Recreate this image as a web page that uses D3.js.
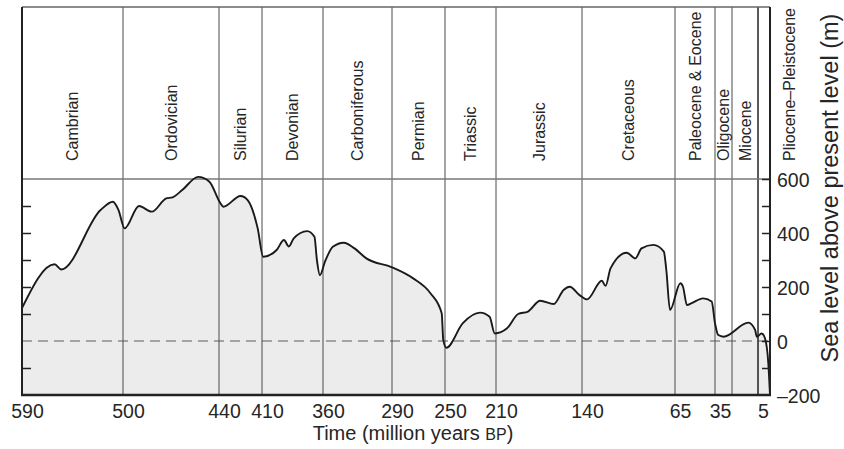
<!DOCTYPE html>
<html><head><meta charset="utf-8">
<script src="https://cdn.jsdelivr.net/npm/d3@7"></script>
<style>
html,body{margin:0;padding:0;background:#fff;}
svg{display:block;font-family:"Liberation Sans",Arial,Helvetica,sans-serif;}
svg text{font-family:"Liberation Sans",Arial,Helvetica,sans-serif;font-weight:normal;}
</style></head><body>
<svg id="chart" width="844" height="449"></svg>
<script>
// Geological periods and their boundaries (million years BP)
const periodNames = ["Cambrian","Ordovician","Silurian","Devonian","Carboniferous","Permian",
  "Triassic","Jurassic","Cretaceous","Paleocene & Eocene","Oligocene","Miocene","Pliocene\u2013Pleistocene"];
const periodBounds = [590,500,440,410,360,290,250,210,140,65,35,23,5,0];
const timeTicks = [590,500,440,410,360,290,250,210,140,65,35,5];
const levelTicks = [-200,0,200,400,600];
const levelTickLabels = ["\u2013200","0","200","400","600"];
const levelMinorTicks = [-100,0,100,200,300,400,500,600];

// Sea level curve: age (Ma) and level above present (m)
const ageMa = [590,561,555,520,509,504,499,490,482,473,469,463,453,446,439,437,425,420,413,
  409,398,392,388,384,373,367,365,362.5,358,350,339,328,316,290,274,261,252.5,251.3,249,
  236,222.5,215,211,201,192,184,174,163,155,150,142,136,124,121,117,104,97,92,82.5,74,72,69,
  61,59,56,52.5,44,37.5,35,32.7,29,11.7,7,5.9,3.5,2.1,0.7,0];
const seaLevel = [122,284,265,485,516,485,417,500,479,528,532,559,608,590,510,497,537,522,417,
  312,337,374,350,380,407,386,300,244,294,349,364,343,306,273,232,177,103,4,-25,
  66,105,90,28,47,100,109,149,137,189,201,170,154,223,204,269,327,306,343,356,331,263,115,
  214,201,133,140,158,146,66,22,16,68,41,16,28,10,-83,-200];

const svg = d3.select("#chart");
const plotLeft = 22, plotRight = 770, plotTop = 7, bandBottom = 179, plotBottom = 395;
const ink = "#262626";

// Piecewise-linear time axis: every period gets its own width
const boundaryPx = [22,123,219,262,323,392,445,496,582,675,715,732,758,770];
const x = d3.scaleLinear().domain(periodBounds).range(boundaryPx);
const y = d3.scaleLinear().domain([-200,600]).range([plotBottom, bandBottom]);

const pts = ageMa.map((a,i)=>({a, v: seaLevel[i]}));

// shaded area under the curve
svg.append("path")
  .datum(pts)
  .attr("fill","#ececec")
  .attr("d", d3.area().curve(d3.curveMonotoneX)
    .x(d=>x(d.a)).y0(y(-200)).y1(d=>y(d.v)));

// present-day sea level
svg.append("line")
  .attr("x1", plotLeft).attr("x2", plotRight).attr("y1", y(0)).attr("y2", y(0))
  .attr("stroke","#8a8a8a").attr("stroke-width",1.5).attr("stroke-dasharray","10,6");

// period boundaries
svg.append("g").selectAll("line")
  .data(periodBounds.slice(1, -1))
  .join("line")
  .attr("x1", d=>x(d)).attr("x2", d=>x(d))
  .attr("y1", plotTop).attr("y2", plotBottom)
  .attr("stroke", d => d===5 ? "#222" : "#4a4a4a")
  .attr("stroke-width", d => d===5 ? 1.5 : 1);

// separator between period band and plot
svg.append("line")
  .attr("x1", plotLeft).attr("x2", plotRight).attr("y1", y(600)).attr("y2", y(600))
  .attr("stroke","#777").attr("stroke-width",1.5);

// sea level curve
svg.append("path")
  .datum(pts)
  .attr("fill","none").attr("stroke","#1a1a1a").attr("stroke-width",1.9)
  .attr("stroke-linejoin","round")
  .attr("d", d3.line().curve(d3.curveMonotoneX).x(d=>x(d.a)).y(d=>y(d.v)));

// frame
svg.append("line").attr("x1",plotLeft).attr("x2",plotRight).attr("y1",plotTop).attr("y2",plotTop)
  .attr("stroke","#666").attr("stroke-width",1.5);
svg.append("line").attr("x1",plotLeft).attr("x2",plotLeft).attr("y1",plotTop).attr("y2",plotBottom)
  .attr("stroke","#222").attr("stroke-width",2);
svg.append("line").attr("x1",plotRight).attr("x2",plotRight).attr("y1",plotTop).attr("y2",plotBottom)
  .attr("stroke","#222").attr("stroke-width",2);
svg.append("line").attr("x1",plotLeft-1).attr("x2",plotRight+1).attr("y1",plotBottom).attr("y2",plotBottom)
  .attr("stroke","#222").attr("stroke-width",2.5);

// inward tick marks on both level axes
const leftTicks = svg.append("g").attr("transform",`translate(${plotLeft},0)`)
  .call(d3.axisLeft(y).tickValues(levelMinorTicks.filter(v=>v!==0 && v!==600)).tickSize(-9).tickFormat(""));
const rightTicks = svg.append("g").attr("transform",`translate(${plotRight},0)`)
  .call(d3.axisRight(y).tickValues(levelMinorTicks).tickSize(-8).tickFormat(""));
[leftTicks, rightTicks].forEach(g=>{
  g.select(".domain").remove();
  g.selectAll(".tick line").attr("stroke","#222").attr("stroke-width",1.5);
});

// time axis labels
const xAxis = svg.append("g").attr("transform",`translate(0,${plotBottom})`)
  .call(d3.axisBottom(x).tickValues(timeTicks).tickSize(0).tickFormat(d3.format("d")));
xAxis.attr("font-family",null).attr("font-size",null);
xAxis.select(".domain").remove();
xAxis.selectAll(".tick text")
  .attr("x",5).attr("y",22.5).attr("dy",null)
  .attr("font-size",19.5).attr("fill",ink)
  .attr("text-anchor","middle");

// level axis labels (right)
const yAxis = svg.append("g").attr("transform",`translate(${plotRight},0)`)
  .call(d3.axisRight(y).tickValues(levelTicks).tickSize(0)
    .tickFormat((d,i)=>levelTickLabels[i]));
yAxis.attr("font-family",null).attr("font-size",null);
yAxis.select(".domain").remove();
yAxis.selectAll(".tick text")
  .attr("x",7).attr("dy","0.36em")
  .attr("font-size",19.5).attr("fill",ink)
  .attr("text-anchor","start");

// period names in the top band
const periods = periodNames.map((name,i)=>({name, from: periodBounds[i], to: periodBounds[i+1]}));
svg.append("g").selectAll("text")
  .data(periods)
  .join("text")
  .attr("transform", d => {
    const cx = d.to === 0 ? 789 : (x(d.from)+x(d.to))/2;
    return `translate(${cx},161) rotate(-90)`;
  })
  .attr("dy","0.36em")
  .attr("font-size",16).attr("fill",ink)
  .attr("text-anchor","start")
  .text(d=>d.name);

// axis titles
const xt = svg.append("text")
  .attr("x",413).attr("y",440)
  .attr("text-anchor","middle").attr("font-size",20).attr("fill",ink);
xt.append("tspan").text("Time (million years ");
xt.append("tspan").attr("font-size",16).text("BP");
xt.append("tspan").text(")");

svg.append("text")
  .attr("transform","translate(838,188) rotate(-90)")
  .attr("text-anchor","middle").attr("font-size",23.5).attr("fill",ink)
  .text("Sea level above present level (m)");
</script>
</body></html>
